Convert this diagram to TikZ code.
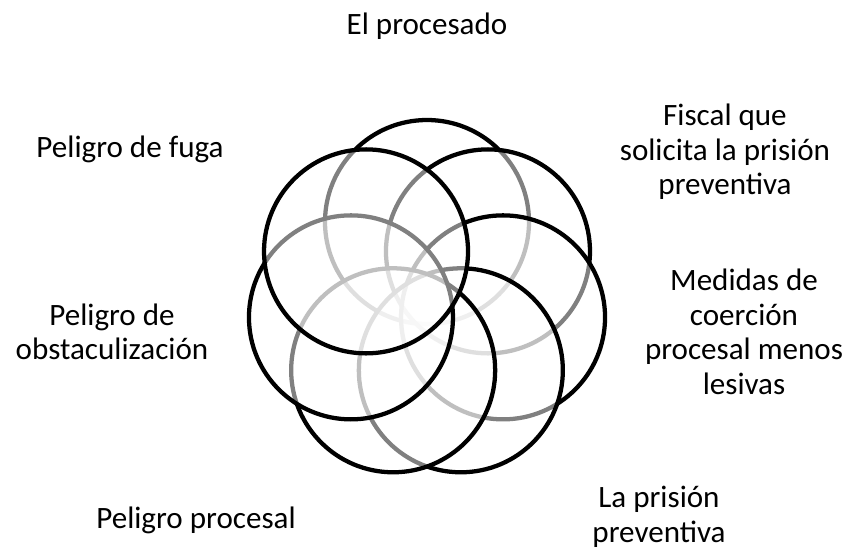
\documentclass[tikz,border=0pt]{standalone}
\usepackage{fontspec}
\setmainfont{Carlito}
\usepackage{tikz}

\tikzset{
    ring/.style={circle, draw=black, line width=3.2pt, fill=white, fill opacity=0.5,
                 minimum size=153pt, inner sep=0pt, outer sep=0pt},
    label/.style={align=center, text=black, font=\fontsize{23.3}{25.9}\selectfont}
}

\begin{document}
\begin{tikzpicture}[x=0.75pt, y=-0.75pt]
                        \useasboundingbox (0,0) rectangle (849,551);
                        % seven circles, drawn from the top one clockwise
                        \foreach \k in {0,...,6}
                        {
                            \pgfmathsetmacro{\a}{90-\k*360/7}
                            \node [ring] (c\k) at ({427+78*cos(\a)}, {300-78*sin(\a)}) {};
                        }
                        \node [label, anchor=base] (procesado) at (427,34) {El procesado};
                        \node [label] (fiscal) at (725,152) {Fiscal que\\solicita la prisión\\preventiva};
                        \node [label] (medidas) at (744,332) {Medidas de\\coerción\\procesal menos\\lesivas};
                        \node [label] (prision) at (659,517) {La prisión\\preventiva};
                        \node [label, anchor=base] (procesal) at (196,528) {Peligro procesal};
                        \node [label] (obstaculizacion) at (112,332) {Peligro de\\obstaculización};
                        \node [label, anchor=base] (fuga) at (130,157) {Peligro de fuga};
                    \end{tikzpicture}
\end{document}
